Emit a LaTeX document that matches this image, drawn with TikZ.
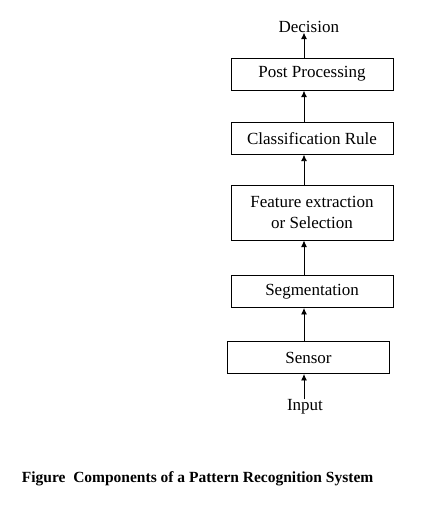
\documentclass[tikz,border=0pt]{standalone}
\usepackage{fontspec}
\setmainfont{Liberation Serif}
\usetikzlibrary{arrows.meta}

\begin{document}
\begin{tikzpicture}[x=1pt,y=-1pt,
  blk/.style={draw,line width=0.9pt,minimum width=162pt,minimum height=#1,inner sep=0pt,align=center,font=\fontsize{17}{21}\selectfont},
  blk/.default=32pt,
  lbl/.style={inner sep=0pt,font=\fontsize{17}{21}\selectfont},
  flow/.style={line width=0.9pt,-{Latex[length=6.5pt,width=6pt]}}]
\useasboundingbox (0,0) rectangle (431,513);
\coordinate (spine) at (304,0);
\node[lbl] (dec) at (308.8,26.7) {Decision};
\node[blk] (post) at (312,74.2) {Post Processing};
\node[blk] (cls) at (312,138.2) {Classification Rule};
\node[blk=54.3pt] (feat) at (312,212.9) {Feature extraction\\or Selection};
\node[blk] (seg) at (312,291.5) {Segmentation};
\node[blk] (sens) at (308.5,357.5) {Sensor};
\node[lbl] (inp) at (305,407) {Input};
\foreach \a/\b in %
{inp/sens,sens/seg,seg/feat,feat/cls,cls/post,post/dec} {
   \draw[flow] (\a.north -| spine) -- (\b.south -| spine);
}
\node[anchor=base west,inner sep=0pt,font=\bfseries\fontsize{15.5}{18}\selectfont] (cap) at (21.7,482.7) {Figure\ \ Components of a Pattern Recognition System};
\end{tikzpicture}
\end{document}
